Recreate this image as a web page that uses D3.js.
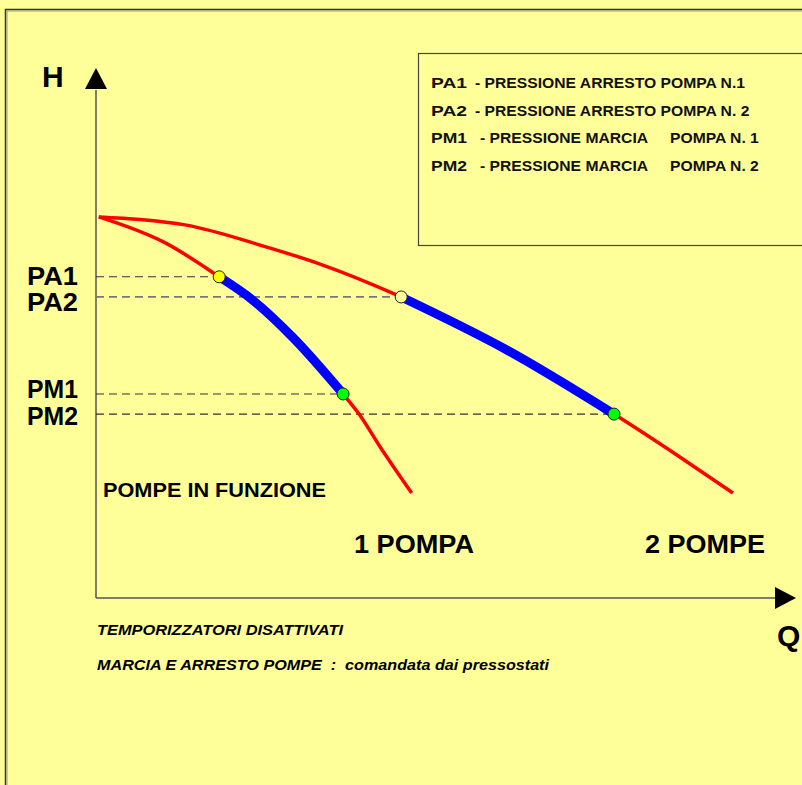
<!DOCTYPE html>
<html>
<head>
<meta charset="utf-8">
<script src="https://cdn.jsdelivr.net/npm/d3@7"></script>
<style>
  html, body { margin: 0; padding: 0; background: #ffff99; }
  svg { display: block; font-family: "Liberation Sans", Arial, sans-serif; }
</style>
</head>
<body>
<div id="chart"></div>
<script>
// pump curves, [Q, H] in arbitrary units (0..100)
const curve1 = [[0.4, 71.9], [9.9, 67.0], [17.6, 60.6], [22.4, 56.2], [28.1, 49.2],
                [35.3, 38.5], [37.7, 34.5], [40.6, 28.5], [45.1, 19.8]];
const curve2 = [[0.4, 71.9], [6.3, 71.4], [12.7, 70.4], [24.4, 66.2], [31.6, 63.2],
                [43.6, 56.8], [58.7, 46.8], [74.0, 34.7], [83.4, 26.6], [91.0, 19.8]];

// working range (blue) on each curve: start/end index into the curve
const run1 = [2, 5];
const run2 = [5, 7];

// pressure set points
const setLabels = ["PA1", "PA2", "PM1", "PM2"];
const setQ = [17.6, 43.6, 35.3, 74.0];
const setH = [60.6, 56.8, 38.5, 34.7];
const setFill = ["#ffff00", "#ffff99", "#00ff00", "#00ff00"];

const legendCodes = ["PA1", "PA2", "PM1", "PM2"];
const legendText = ["- PRESSIONE ARRESTO POMPA N.1", "- PRESSIONE ARRESTO POMPA N. 2",
                    "- PRESSIONE MARCIA", "- PRESSIONE MARCIA"];
const legendTail = ["", "", "POMPA N. 1", "POMPA N. 2"];

const notes = ["TEMPORIZZATORI DISATTIVATI", "MARCIA E ARRESTO POMPE  :  comandata dai pressostati"];

const W = 802, H = 785;
const x = d3.scaleLinear().domain([0, 100]).range([96, 796]);
const y = d3.scaleLinear().domain([0, 100]).range([598, 68]);

const svg = d3.select('#chart').append('svg')
    .attr('width', W)
    .attr('height', H);

svg.append('rect').attr('width', W).attr('height', H).attr('fill', '#ffff99');

// frame
svg.append('rect')
    .attr('x', 5.5).attr('y', 9.5)
    .attr('width', W + 20).attr('height', H + 20)
    .attr('fill', 'none')
    .attr('stroke', '#333')
    .attr('stroke-width', 1.5);
svg.append('rect')
    .attr('x', 7).attr('y', 11)
    .attr('width', W + 20).attr('height', H + 20)
    .attr('fill', 'none')
    .attr('stroke', '#999')
    .attr('stroke-width', 1);

// legend box
svg.append('rect')
    .attr('x', 418.5).attr('y', 53.5)
    .attr('width', 400).attr('height', 192)
    .attr('fill', 'none')
    .attr('stroke', '#444')
    .attr('stroke-width', 1.2);

// legend text is a bit wider than the plain font, stretch it
const sx = 1.12;
let lg = svg.append('g')
    .attr('transform', `translate(431,0) scale(${sx},1)`)
    .style('font-weight', 'bold').style('font-size', '14px').attr('fill', '#111');
legendCodes.forEach((c, i) => {
    let ty = 88 + i * 27.6;
    lg.append('text').attr('x', 0).attr('y', ty)
        .attr('textLength', 36 / sx).attr('lengthAdjust', 'spacingAndGlyphs').text(c);
    lg.append('text').attr('x', ((i < 2 ? 475 : 480) - 431) / sx).attr('y', ty).text(legendText[i]);
    if (legendTail[i]) lg.append('text').attr('x', (670 - 431) / sx).attr('y', ty).text(legendTail[i]);
});

// axes
svg.append('line')
    .attr('x1', x(0)).attr('y1', y(0))
    .attr('x2', x(0)).attr('y2', y(0) - 508)
    .attr('stroke', '#555').attr('stroke-width', 1.5);
svg.append('line')
    .attr('x1', x(0)).attr('y1', y(0))
    .attr('x2', x(100) - 20).attr('y2', y(0))
    .attr('stroke', '#555').attr('stroke-width', 1.5);
svg.append('path')
    .attr('d', `M${x(0)},${y(100)} L${x(0) - 11},${y(100) + 21} L${x(0) + 11},${y(100) + 21} Z`)
    .attr('fill', '#000');
svg.append('path')
    .attr('d', `M${x(100)},${y(0)} L${x(100) - 21},${y(0) - 11} L${x(100) - 21},${y(0) + 11} Z`)
    .attr('fill', '#000');

svg.append('text').attr('x', 42).attr('y', 87)
    .style('font-size', '30px').style('font-weight', 'bold').text('H');
svg.append('text').attr('x', 777).attr('y', 646)
    .style('font-size', '30px').style('font-weight', 'bold').text('Q');

// dashed reference lines
setLabels.forEach((l, i) => {
    svg.append('line')
        .attr('x1', x(0)).attr('x2', x(setQ[i]))
        .attr('y1', y(setH[i])).attr('y2', y(setH[i]))
        .attr('stroke', i == 1 ? '#777' : '#333')
        .attr('stroke-width', i == 1 ? 1.8 : 1.1)
        .attr('stroke-dasharray', '8,5');
});

const labelY = [285, 311, 398, 425];
setLabels.forEach((l, i) => {
    svg.append('text')
        .attr('x', 27).attr('y', labelY[i])
        .attr('textLength', 51).attr('lengthAdjust', 'spacingAndGlyphs')
        .style('font-size', '25px').style('font-weight', 'bold')
        .text(l);
});

const line = d3.line()
    .x(d => x(d[0]))
    .y(d => y(d[1]))
    .curve(d3.curveMonotoneX);

[curve1, curve2].forEach(c => {
    svg.append('path')
        .attr('d', line(c))
        .attr('fill', 'none')
        .attr('stroke', '#ff0000')
        .attr('stroke-width', 3.5)
        .attr('stroke-linejoin', 'round');
});

[[curve1, run1], [curve2, run2]].forEach(([c, r]) => {
    svg.append('path')
        .attr('d', line(c.slice(r[0], r[1] + 1)))
        .attr('fill', 'none')
        .attr('stroke', '#0000ff')
        .attr('stroke-width', 9);
});

setLabels.forEach((l, i) => {
    svg.append('circle')
        .attr('cx', x(setQ[i])).attr('cy', y(setH[i]))
        .attr('r', 6)
        .attr('fill', setFill[i])
        .attr('stroke', '#222')
        .attr('stroke-width', 1);
});

svg.append('text').attr('x', 103).attr('y', 497)
    .attr('textLength', 223).attr('lengthAdjust', 'spacingAndGlyphs')
    .style('font-size', '20px').style('font-weight', 'bold').text('POMPE IN FUNZIONE');
svg.append('text').attr('x', 354).attr('y', 553)
    .attr('textLength', 120).attr('lengthAdjust', 'spacingAndGlyphs')
    .style('font-size', '26px').style('font-weight', 'bold').text('1 POMPA');
svg.append('text').attr('x', 645).attr('y', 553)
    .attr('textLength', 120).attr('lengthAdjust', 'spacingAndGlyphs')
    .style('font-size', '26px').style('font-weight', 'bold').text('2 POMPE');

const noteLen = [246, 452];
notes.forEach((n, i) => {
    svg.append('text')
        .attr('x', 97).attr('y', 635 + i * 35)
        .attr('xml:space', 'preserve')
        .attr('textLength', noteLen[i]).attr('lengthAdjust', 'spacingAndGlyphs')
        .style('white-space', 'pre')
        .style('font-size', '14px').style('font-weight', 'bold').style('font-style', 'italic')
        .text(n);
});
</script>
</body>
</html>
